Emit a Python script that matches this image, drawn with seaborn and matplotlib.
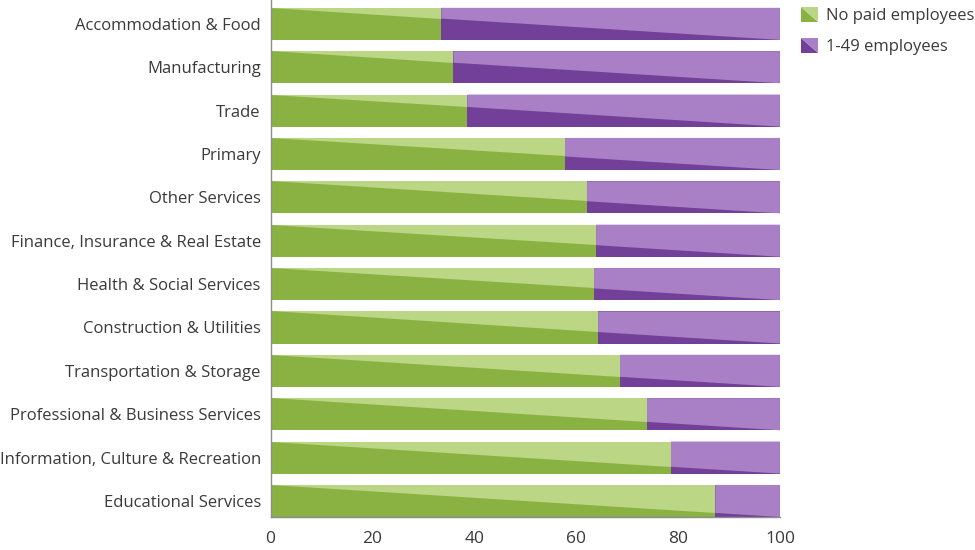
import matplotlib
matplotlib.use("Agg")
import matplotlib.pyplot as plt
from matplotlib.legend_handler import HandlerBase
from matplotlib.patches import Polygon, Patch
import pandas as pd
import seaborn as sns

# values (percent of businesses)
industries = [
    "Accommodation & Food",
    "Manufacturing",
    "Trade",
    "Primary",
    "Other Services",
    "Finance, Insurance & Real Estate",
    "Health & Social Services",
    "Construction & Utilities",
    "Transportation & Storage",
    "Professional & Business Services",
    "Information, Culture & Recreation",
    "Educational Services",
]
no_paid = [33.5, 35.9, 38.6, 57.8, 62.1, 63.9, 63.5, 64.3, 68.6, 73.9, 78.6, 87.3]
small = [100 - v for v in no_paid]
series_labels = ["No paid employees", "1-49 employees"]
xticks = [0, 20, 40, 60, 80, 100]

green_dark, green_light = "#8ab242", "#bbd684"
purple_dark, purple_light = "#723f99", "#a980c6"
text_col = "#3a3a3a"
axis_col = "#8c8c8c"

df = pd.DataFrame({"industry": industries, "no_paid": no_paid, "small": small})
df["total"] = df.no_paid + df.small

sns.set_style("white")
plt.rcParams["font.family"] = ["Open Sans", "DejaVu Sans"]

fig = plt.figure(figsize=(9.75, 5.5), dpi=100)
ax = fig.add_axes([0.2775, 0.06, 0.5225, 0.94])

bar_w = 0.74
sns.barplot(data=df, y="industry", x="total", color=purple_dark, saturation=1,
            width=bar_w, ax=ax, linewidth=0)
sns.barplot(data=df, y="industry", x="no_paid", color=green_dark, saturation=1,
            width=bar_w, ax=ax, linewidth=0)

# lighter upper triangles: diagonal runs from top-left to bottom-right of each bar
total_bars = ax.patches[:len(df)]
for bar, g, t in zip(total_bars, df.no_paid, df.total):
    y0, h = bar.get_y(), bar.get_height()
    ymid = y0 + h * g / t
    ax.fill([0, g, g], [y0, y0, ymid], color=green_light, lw=0)
    ax.fill([g, t, t, g], [y0, y0, y0 + h, ymid], color=purple_light, lw=0)
    ax.plot([t, t], [y0, y0 + h], color=purple_dark, lw=0.8)

ax.set_xlim(0, 100)
ax.set_ylim(len(df) - 1 + bar_w / 2, -0.55)
ax.set_xticks(xticks)
ax.set_xlabel("")
ax.set_ylabel("")

for side in ["top", "right"]:
    ax.spines[side].set_visible(False)
for side in ["left", "bottom"]:
    ax.spines[side].set_color(axis_col)
    ax.spines[side].set_linewidth(1)

ax.tick_params(axis="x", direction="in", length=5, color=axis_col, width=1,
               labelsize=12.5, labelcolor=text_col, pad=10)
ax.tick_params(axis="y", length=0, labelsize=12, labelcolor=text_col, pad=7)


class DiagHandler(HandlerBase):
    def __init__(self, dark, light):
        super().__init__()
        self.dark, self.light = dark, light

    def create_artists(self, legend, orig_handle, xdescent, ydescent,
                       width, height, fontsize, trans):
        x0, y0 = -xdescent, -ydescent
        lo = Polygon([(x0, y0 + height), (x0, y0), (x0 + width, y0)],
                     closed=True, fc=self.dark, lw=0, transform=trans)
        hi = Polygon([(x0, y0 + height), (x0 + width, y0 + height), (x0 + width, y0)],
                     closed=True, fc=self.light, lw=0, transform=trans)
        return [lo, hi]


h1 = Patch(color=green_dark)
h2 = Patch(color=purple_dark)
leg = fig.legend([h1, h2], series_labels, loc="upper left",
                 bbox_to_anchor=(0.822, 0.988), frameon=False,
                 fontsize=12, handlelength=1.0, handleheight=1.0,
                 handletextpad=0.45, labelspacing=0.85, borderpad=0,
                 borderaxespad=0,
                 handler_map={h1: DiagHandler(green_dark, green_light),
                              h2: DiagHandler(purple_dark, purple_light)})
for t in leg.get_texts():
    t.set_color(text_col)

fig.savefig("out.png", dpi=100)
